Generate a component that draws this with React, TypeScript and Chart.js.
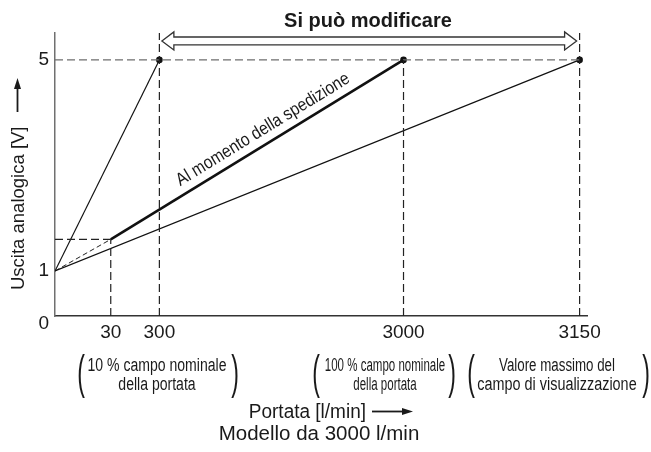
import React, { useEffect, useRef } from 'react';
import { Chart, registerables, LinearScale } from 'chart.js';

Chart.register(...registerables);

const FONT = '"Liberation Sans", Arial, Helvetica, sans-serif';

// ---- data ----
const xTickValues = [30, 300, 3000, 3150];
const yTickValues = [0, 1, 5];

const steepFlows = [0, 300];
const steepVolts = [1, 5];
const shipLeadFlows = [0, 30];
const shipLeadVolts = [1, 1.6];
const shipFlows = [30, 3000];
const shipVolts = [1.6, 5];
const maxFlows = [0, 3150];
const maxVolts = [1, 5];
const markerFlows = [300, 3000, 3150];
const markerVolts = [5, 5, 5];

const Y_MIN = 0.147;
const Y_MAX = 5.51;
const guideVFlows = [30, 300, 3000, 3150];
const guideVTops = [1.6, Y_MAX, 5, Y_MAX];
const guideHVolts = [5, 1.6];
const guideHEnds = [3150, 30];
const arrowVolt = 5.36;

// schematic (non-proportional) flow axis breakpoints
const xKnots = [0, 30, 300, 3000, 3150, 3170];
const xKnotFrac = [0, 0.1048, 0.1962, 0.6551, 0.9861, 1];

function toFrac(v: number) {
  const n = xKnots.length;
  let i = 0;
  while (i < n - 2 && v > xKnots[i + 1]) i++;
  const t = (v - xKnots[i]) / (xKnots[i + 1] - xKnots[i]);
  return xKnotFrac[i] + t * (xKnotFrac[i + 1] - xKnotFrac[i]);
}
function fromFrac(f: number) {
  const n = xKnots.length;
  let i = 0;
  while (i < n - 2 && f > xKnotFrac[i + 1]) i++;
  const t = (f - xKnotFrac[i]) / (xKnotFrac[i + 1] - xKnotFrac[i]);
  return xKnots[i] + t * (xKnots[i + 1] - xKnots[i]);
}

class SchematicScale extends LinearScale {
  static id = 'schematic';
  getPixelForValue(value: number) {
    if (value === null || value === undefined || isNaN(value)) return NaN;
    return this.getPixelForDecimal(toFrac(value));
  }
  getValueForPixel(pixel: number) {
    return fromFrac(this.getDecimalForPixel(pixel));
  }
}
Chart.register(SchematicScale as any);

const pts = (xs: number[], ys: number[]) => xs.map((x, i) => ({ x, y: ys[i] }));

const annotations = {
  id: 'annotations',
  afterDraw(chart: any) {
    const ctx: CanvasRenderingContext2D = chart.ctx;
    const xs = chart.scales.x;
    const ys = chart.scales.y;
    const ink = '#1a1a1a';
    ctx.save();

    // title
    ctx.fillStyle = ink;
    ctx.font = `bold 20px ${FONT}`;
    ctx.textAlign = 'center';
    ctx.textBaseline = 'alphabetic';
    ctx.fillText('Si può modificare', 368, 27);

    // hollow double arrow
    const xa = xs.getPixelForValue(300) + 2.5;
    const xb = xs.getPixelForValue(3150) - 3;
    const yc = ys.getPixelForValue(arrowVolt);
    const hs = 3.9, hh = 9, hl = 12;
    ctx.beginPath();
    ctx.moveTo(xa, yc);
    ctx.lineTo(xa + hl, yc - hh);
    ctx.lineTo(xa + hl, yc - hs);
    ctx.lineTo(xb - hl, yc - hs);
    ctx.lineTo(xb - hl, yc - hh);
    ctx.lineTo(xb, yc);
    ctx.lineTo(xb - hl, yc + hh);
    ctx.lineTo(xb - hl, yc + hs);
    ctx.lineTo(xa + hl, yc + hs);
    ctx.lineTo(xa + hl, yc + hh);
    ctx.closePath();
    ctx.fillStyle = '#fff';
    ctx.fill();
    ctx.strokeStyle = '#333';
    ctx.lineWidth = 1.3;
    ctx.stroke();

    // rotated label along shipment line
    const p1x = xs.getPixelForValue(shipFlows[0]), p1y = ys.getPixelForValue(shipVolts[0]);
    const p2x = xs.getPixelForValue(shipFlows[1]), p2y = ys.getPixelForValue(shipVolts[1]);
    const ang = Math.atan2(p2y - p1y, p2x - p1x);
    const t = 0.545;
    const off = 9;
    const cx = p1x + t * (p2x - p1x) + Math.sin(ang) * off;
    const cy = p1y + t * (p2y - p1y) - Math.cos(ang) * off;
    ctx.save();
    ctx.translate(cx, cy);
    ctx.rotate(ang);
    ctx.scale(0.87, 1);
    ctx.fillStyle = ink;
    ctx.font = `18px ${FONT}`;
    ctx.textAlign = 'center';
    ctx.textBaseline = 'alphabetic';
    ctx.fillText('Al momento della spedizione', 0, 0);
    ctx.restore();

    // y axis title + arrow
    ctx.save();
    ctx.translate(24, 290);
    ctx.rotate(-Math.PI / 2);
    ctx.fillStyle = ink;
    ctx.font = `18.5px ${FONT}`;
    ctx.textAlign = 'left';
    ctx.textBaseline = 'alphabetic';
    ctx.fillText('Uscita analogica [V]', 0, 0);
    ctx.restore();
    ctx.strokeStyle = ink;
    ctx.fillStyle = ink;
    ctx.lineWidth = 1.8;
    ctx.beginPath();
    ctx.moveTo(17.5, 112);
    ctx.lineTo(17.5, 86);
    ctx.stroke();
    ctx.beginPath();
    ctx.moveTo(17.5, 78);
    ctx.lineTo(21, 89);
    ctx.lineTo(14, 89);
    ctx.closePath();
    ctx.fill();

    // x axis title + arrow
    ctx.save();
    ctx.translate(366, 0);
    ctx.scale(0.95, 1);
    ctx.font = `20px ${FONT}`;
    ctx.textAlign = 'right';
    ctx.fillText('Portata [l/min]', 0, 418);
    ctx.restore();
    ctx.beginPath();
    ctx.moveTo(372, 411.5);
    ctx.lineTo(403, 411.5);
    ctx.stroke();
    ctx.beginPath();
    ctx.moveTo(413, 411.5);
    ctx.lineTo(402, 408);
    ctx.lineTo(402, 415);
    ctx.closePath();
    ctx.fill();
    ctx.font = `20.5px ${FONT}`;
    ctx.textAlign = 'center';
    ctx.fillText('Modello da 3000 l/min', 319, 440);

    // parenthesised notes
    const blocks = [
      { cx: 157, s1: 0.78, s2: 0.78, l1: '10 % campo nominale', l2: 'della portata', pl: 81, pr: 235 },
      { cx: 385, s1: 0.64, s2: 0.64, l1: '100 % campo nominale', l2: 'della portata', pl: 316, pr: 452 },
      { cx: 557, s1: 0.74, s2: 0.8, l1: 'Valore massimo del', l2: 'campo di visualizzazione', pl: 471, pr: 646 },
    ];
    for (const b of blocks) {
      ctx.font = `18px ${FONT}`;
      ctx.textAlign = 'center';
      ctx.save();
      ctx.translate(b.cx, 0);
      ctx.scale(b.s1, 1);
      ctx.fillText(b.l1, 0, 371);
      ctx.restore();
      ctx.save();
      ctx.translate(b.cx, 0);
      ctx.scale(b.s2, 1);
      ctx.fillText(b.l2, 0, 390);
      ctx.restore();
      for (const [px, ch] of [[b.pl, '('], [b.pr, ')']] as [number, string][]) {
        ctx.save();
        ctx.translate(px, 0);
        ctx.scale(0.5, 1);
        ctx.font = `46px ${FONT}`;
        ctx.textAlign = 'center';
        ctx.fillText(ch, 0, 388);
        ctx.restore();
      }
    }
    ctx.restore();
  },
};

export default function App() {
  const ref = useRef<HTMLCanvasElement>(null);
  useEffect(() => {
    document.body.style.margin = '0';
    const guideDash = [8, 4];
    const datasets: any[] = [];
    guideVFlows.forEach((f, i) => {
      datasets.push({
        data: pts([f, f], [Y_MIN, guideVTops[i]]),
        borderColor: '#222',
        borderWidth: 1.2,
        borderDash: guideDash,
        pointRadius: 0,
      });
    });
    guideHVolts.forEach((v, i) => {
      datasets.push({
        data: pts([0, guideHEnds[i]], [v, v]),
        borderColor: i === 0 ? '#6e6e6e' : '#222',
        borderWidth: 1.3,
        borderDash: guideDash,
        pointRadius: 0,
      });
    });
    datasets.push({ data: pts(steepFlows, steepVolts), borderColor: '#111', borderWidth: 1.2, pointRadius: 0 });
    datasets.push({ data: pts(maxFlows, maxVolts), borderColor: '#111', borderWidth: 1.2, pointRadius: 0 });
    datasets.push({ data: pts(shipLeadFlows, shipLeadVolts), borderColor: '#222', borderWidth: 1, borderDash: [5, 3], pointRadius: 0 });
    datasets.push({ data: pts(shipFlows, shipVolts), borderColor: '#111', borderWidth: 2.6, pointRadius: 0 });
    datasets.push({
      data: pts(markerFlows, markerVolts),
      showLine: false,
      pointRadius: 3.3,
      pointBackgroundColor: '#111',
      pointBorderWidth: 0,
    });

    const chart = new Chart(ref.current!, {
      type: 'line',
      data: { datasets },
      options: {
        animation: false,
        responsive: false,
        maintainAspectRatio: false,
        events: [],
        layout: { padding: { left: 0, top: 33, right: 64, bottom: 0 } },
        plugins: { legend: { display: false }, tooltip: { enabled: false }, title: { display: false } },
        elements: { line: { tension: 0 } },
        scales: {
          x: {
            type: 'schematic' as any,
            min: 0,
            max: 3170,
            afterBuildTicks: (s: any) => { s.ticks = xTickValues.map((v) => ({ value: v })); },
            afterFit: (s: any) => { s.height = 136; },
            ticks: {
              autoSkip: false,
              maxRotation: 0,
              padding: 5,
              color: '#1a1a1a',
              font: { family: FONT, size: 19 },
              callback: (v: any) => String(v),
            },
            grid: { display: false, drawTicks: false },
            border: { display: true, color: '#333', width: 1.5 },
          },
          y: {
            type: 'linear',
            min: Y_MIN,
            max: Y_MAX,
            afterBuildTicks: (s: any) => { s.ticks = yTickValues.map((v) => ({ value: v })); },
            afterFit: (s: any) => { s.width = 55; },
            ticks: {
              autoSkip: false,
              padding: 6,
              color: '#1a1a1a',
              font: { family: FONT, size: 19 },
              callback: (v: any) => String(v),
            },
            grid: { display: false, drawTicks: false },
            border: { display: true, color: '#707070', width: 1.5 },
          },
        },
      },
      plugins: [annotations],
    });
    return () => chart.destroy();
  }, []);
  return (
    <div style={{ width: 651, height: 452 }}>
      <canvas ref={ref} width={651} height={452} style={{ display: 'block', width: 651, height: 452 }} />
    </div>
  );
}
